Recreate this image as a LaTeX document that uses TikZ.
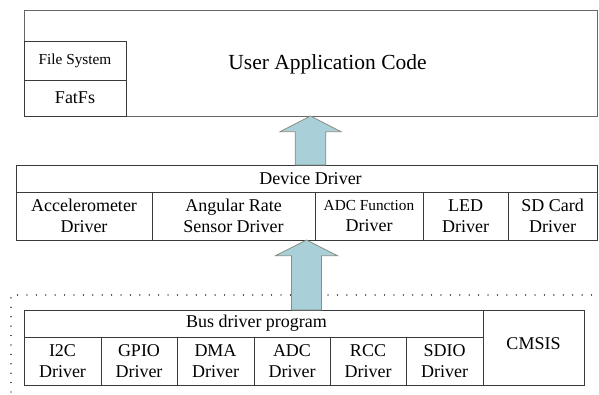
\documentclass[tikz,border=0pt]{standalone}
\usepackage{fontspec}
\setmainfont{Liberation Serif}
\usetikzlibrary{calc}
\definecolor{arrowfill}{HTML}{A9CFD9}
\definecolor{arrowline}{HTML}{8A8E80}
\definecolor{boxline}{HTML}{3A3A3A}
\begin{document}
\begin{tikzpicture}[x=1pt,y=-1pt,
  cell/.style={draw=boxline,line width=0.8pt,inner sep=0pt,outer sep=0pt,align=center,
    font=\fontsize{18}{21}\selectfont},
  small/.style={font=\fontsize{15.3}{18}\selectfont},
  barrow/.style={draw=arrowline,fill=arrowfill,line width=0.8pt,line join=miter},
  dotline/.style={line width=1.3pt,dash pattern=on 0.01pt off 9.4pt,line cap=round,draw=black!80}
]
\useasboundingbox (0,0) rectangle (599,394);
% top layer
\node[cell,draw=black!60,minimum width=573,minimum height=106] (app) at (310.5,63) {};
\node[font=\fontsize{21.5}{24}\selectfont,inner sep=0pt] (apptxt) at (327.5,64) {User Application Code};
\node[cell,small,minimum width=102,minimum height=39] (fs) at (75,60.5) {File System};
\node[cell,minimum width=102,minimum height=36] (fatfs) at (75,98) {FatFs};
% device driver layer
\node[cell,minimum width=581,minimum height=27] (devh) at (306.5,178.5) {\hspace*{8pt}Device Driver};
\node[cell,minimum width=136,minimum height=48] (acc) at (84,216) {Accelerometer\\Driver};
\node[cell,minimum width=163,minimum height=48] (ang) at (233.5,216) {Angular Rate\\Sensor Driver};
\node[cell,minimum width=108,minimum height=48] (adcf) at (369,216) {{\fontsize{15.3}{18}\selectfont ADC Function}\\Driver};
\node[cell,minimum width=85,minimum height=48] (led) at (465.5,216) {LED\\Driver};
\node[cell,minimum width=89,minimum height=48] (sd) at (552.5,216) {SD Card\\Driver};
% dotted boundary
\draw[dotline] (11,392) -- (11,295) -- (594,295);
% bus layer
\node[cell,minimum width=459,minimum height=27] (bush) at (253.5,323.5) {\hspace*{6pt}Bus driver program};
\node[cell,minimum width=77,minimum height=48] (i2c) at (62.5,361) {I2C\\Driver};
\node[cell,minimum width=76,minimum height=48] (gpio) at (139,361) {GPIO\\Driver};
\node[cell,minimum width=77,minimum height=48] (dma) at (215.5,361) {DMA\\Driver};
\node[cell,minimum width=76,minimum height=48] (adc) at (292,361) {ADC\\Driver};
\node[cell,minimum width=76,minimum height=48] (rcc) at (368,361) {RCC\\Driver};
\node[cell,minimum width=77,minimum height=48] (sdio) at (444.5,361) {SDIO\\Driver};
\node[cell,minimum width=101,minimum height=75,text depth=8pt] (cmsis) at (533.5,347.5) {CMSIS};
% block arrows
\draw[barrow] (app.south) -- ($(app.south)+(30.5,15.7)$) -- ($(app.south)+(15.3,15.7)$)
  -- ($(app.south |- devh.north)+(15.3,0)$) -- ($(app.south |- devh.north)+(-15.3,0)$)
  -- ($(app.south)+(-15.3,15.7)$) -- ($(app.south)+(-30.5,15.7)$) -- cycle;
\draw[barrow] (devh.south |- acc.south) -- ($(devh.south |- acc.south)+(31,15.7)$) -- ($(devh.south |- acc.south)+(15,15.7)$)
  -- ($(devh.south |- bush.north)+(15,0)$) -- ($(devh.south |- bush.north)+(-15,0)$)
  -- ($(devh.south |- acc.south)+(-15,15.7)$) -- ($(devh.south |- acc.south)+(-31,15.7)$) -- cycle;
\end{tikzpicture}
\end{document}
